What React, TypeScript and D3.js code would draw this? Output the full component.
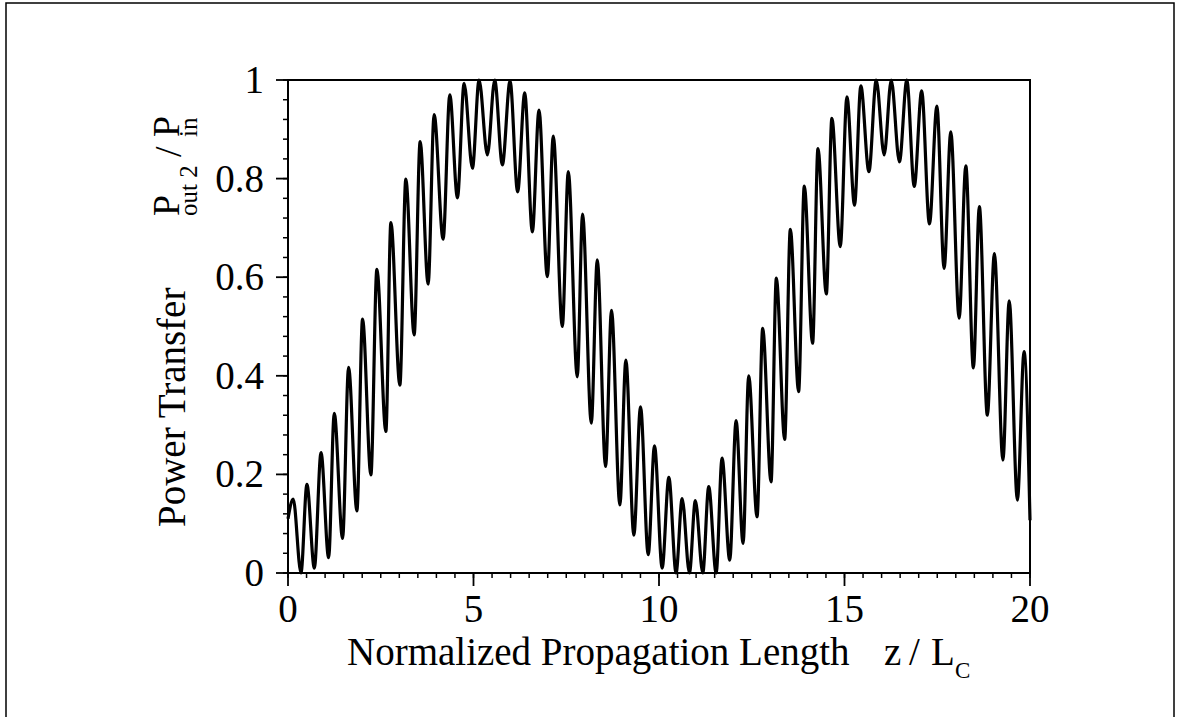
import React from "react";
import * as d3 from "d3";

// Extrema of the curve (z / Lc, Pout2 / Pin)
const zValues: number[] = [
  0, 0.14, 0.35, 0.51, 0.71, 0.89, 1.095, 1.247, 1.471, 1.633, 1.857, 2.01, 2.234, 2.396, 2.638, 2.773,
  3.015, 3.176, 3.4, 3.562, 3.777, 3.939, 4.181, 4.361, 4.567, 4.747, 4.971, 5.15, 5.375, 5.572, 5.778,
  5.985, 6.19, 6.38, 6.586, 6.765, 6.99, 7.15, 7.394, 7.555, 7.797, 7.94, 8.175, 8.336, 8.56, 8.72,
  8.945, 9.107, 9.322, 9.502, 9.709, 9.879, 10.085, 10.265, 10.46, 10.624, 10.82, 10.98, 11.18, 11.34,
  11.54, 11.7, 11.906, 12.078, 12.266, 12.418, 12.643, 12.795, 13.02, 13.163, 13.387, 13.54, 13.763,
  13.916, 14.14, 14.285, 14.51, 14.66, 14.886, 15.066, 15.27, 15.44, 15.658, 15.855, 16.07, 16.26,
  16.48, 16.68, 16.88, 17.08, 17.29, 17.49, 17.685, 17.865, 18.09, 18.27, 18.474, 18.635, 18.85,
  19.04, 19.27, 19.44, 19.66, 19.84, 20,
];
const powerValues: number[] = [
  0.11, 0.15, 0.0, 0.18, 0.01, 0.244, 0.031, 0.324, 0.07, 0.417, 0.126, 0.515, 0.199, 0.616, 0.287, 0.711,
  0.381, 0.799, 0.483, 0.875, 0.586, 0.93, 0.677, 0.97, 0.761, 0.993, 0.821, 1.0, 0.848, 1.0, 0.828,
  0.998, 0.773, 0.974, 0.692, 0.939, 0.601, 0.886, 0.5, 0.814, 0.398, 0.728, 0.304, 0.635, 0.216, 0.533,
  0.138, 0.432, 0.077, 0.337, 0.037, 0.258, 0.01, 0.194, 0.0, 0.151, 0.0, 0.147, 0.0, 0.175,
  0.0, 0.233, 0.026, 0.309, 0.06, 0.4, 0.114, 0.496, 0.185, 0.598, 0.271, 0.697, 0.368,
  0.785, 0.466, 0.861, 0.566, 0.922, 0.662, 0.966, 0.746, 0.988, 0.814, 1.0, 0.848, 1.0,
  0.834, 1.0, 0.784, 0.978, 0.708, 0.947, 0.618, 0.895, 0.517, 0.826, 0.416, 0.743, 0.32,
  0.648, 0.229, 0.552, 0.148, 0.449, 0.107,
];

const xTickValues: number[] = [0, 5, 10, 15, 20];
const xTickLabels: string[] = ["0", "5", "10", "15", "20"];
const yTickValues: number[] = [0, 0.2, 0.4, 0.6, 0.8, 1];
const yTickLabels: string[] = ["0", "0.2", "0.4", "0.6", "0.8", "1"];
const xMinorStep = 0.5;
const yMinorStep = 0.04;

const FONT = "'Liberation Serif', 'Times New Roman', serif";

export default function App() {
  const W = 1178;
  const H = 717;
  const x = d3.scaleLinear().domain([0, 20]).range([288, 1030]);
  const y = d3.scaleLinear().domain([0, 1]).range([573, 80]);

  const pts: [number, number][] = zValues.map((z, i) => [z, powerValues[i]]);
  const line = d3
    .line<[number, number]>()
    .x((d) => x(d[0]))
    .y((d) => y(d[1]))
    .curve(d3.curveMonotoneX);

  const xMinor = d3.range(0, 20 + 1e-9, xMinorStep);
  const yMinor = d3.range(0, 1 + 1e-9, yMinorStep);
  const [x0, x1] = x.range();
  const [y0, y1] = y.range();

  return (
    <svg
      width={W}
      height={H}
      viewBox={`0 0 ${W} ${H}`}
      style={{ position: "absolute", left: 0, top: 0, background: "#fff" }}
    >
      <rect x={0} y={0} width={W} height={H} fill="#fff" />
      {/* outer frame */}
      <rect x={6} y={3} width={1168} height={740} fill="none" stroke="#000" strokeWidth={1.5} />

      {/* minor ticks */}
      {xMinor.map((v, i) => (
        <line key={"xm" + i} x1={x(v)} x2={x(v)} y1={y0} y2={y0 + 5} stroke="#000" strokeWidth={1.5} />
      ))}
      {yMinor.map((v, i) => (
        <line key={"ym" + i} x1={x0 - 5} x2={x0} y1={y(v)} y2={y(v)} stroke="#000" strokeWidth={1.5} />
      ))}
      {/* major ticks + labels */}
      {xTickValues.map((v, i) => (
        <g key={"xt" + i}>
          <line x1={x(v)} x2={x(v)} y1={y0} y2={y0 + 13} stroke="#000" strokeWidth={1.8} />
          <text x={x(v)} y={622} textAnchor="middle" fontFamily={FONT} fontSize={39} fill="#000">
            {xTickLabels[i]}
          </text>
        </g>
      ))}
      {yTickValues.map((v, i) => (
        <g key={"yt" + i}>
          <line x1={x0 - 12} x2={x0} y1={y(v)} y2={y(v)} stroke="#000" strokeWidth={1.8} />
          <text x={264} y={y(v) + 13} textAnchor="end" fontFamily={FONT} fontSize={39} fill="#000">
            {yTickLabels[i]}
          </text>
        </g>
      ))}

      {/* plot frame */}
      <rect x={x0} y={y1} width={x1 - x0} height={y0 - y1} fill="none" stroke="#000" strokeWidth={2} />

      {/* curve */}
      <path d={line(pts) || ""} fill="none" stroke="#000" strokeWidth={3.2} strokeLinejoin="round" />

      {/* x axis title */}
      <text x={347} y={665} fontFamily={FONT} fontSize={39} fill="#000">
        Normalized Propagation Length
      </text>
      <text x={884} y={665} fontFamily={FONT} fontSize={39} fill="#000">
        z
      </text>
      <text x={909} y={665} fontFamily={FONT} fontSize={39} fill="#000">
        /
      </text>
      <text x={931} y={665} fontFamily={FONT} fontSize={39} fill="#000">
        L
      </text>
      <text x={955} y={678} fontFamily={FONT} fontSize={23} fill="#000">
        C
      </text>

      {/* y axis title */}
      <text transform="translate(185,527) rotate(-90)" fontFamily={FONT} fontSize={39} fill="#000">
        Power Transfer
      </text>
      <text transform="translate(179,216) rotate(-90)" fontFamily={FONT} fontSize={38} fill="#000">
        P
      </text>
      <text transform="translate(197,216) rotate(-90)" fontFamily={FONT} fontSize={25} fill="#000">
        out 2
      </text>
      <text transform="translate(181,157) rotate(-90)" fontFamily={FONT} fontSize={38} fill="#000">
        /
      </text>
      <text transform="translate(179,137) rotate(-90)" fontFamily={FONT} fontSize={38} fill="#000">
        P
      </text>
      <text transform="translate(197,137) rotate(-90)" fontFamily={FONT} fontSize={25} fill="#000">
        in
      </text>
    </svg>
  );
}
